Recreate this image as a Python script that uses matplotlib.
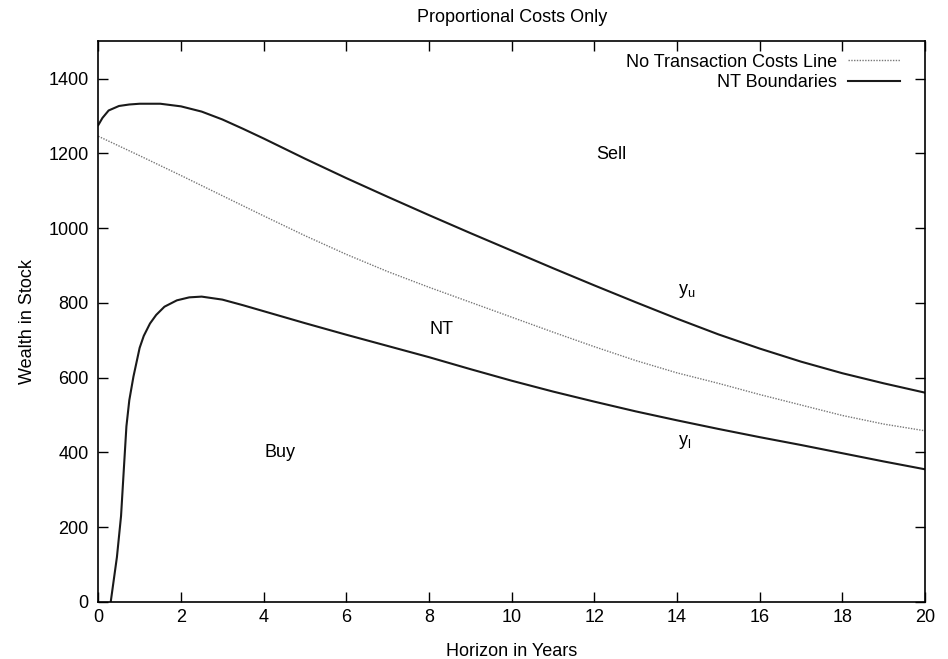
"""
Proportional costs only: no-trade region boundaries vs horizon
"""

import numpy as np
import matplotlib
matplotlib.use("Agg")
import matplotlib.pyplot as plt

plt.rcParams['font.family'] = ['Liberation Sans', 'DejaVu Sans']
plt.rcParams['mathtext.fontset'] = 'custom'
plt.rcParams['mathtext.rm'] = 'Liberation Sans'

# horizon (years) and values
years_mid = [0, 1, 2, 3, 4, 5, 6, 7, 8, 9, 10, 11, 12, 13, 14, 15, 16, 17, 18, 19, 20]
no_tc_line = [1246, 1194, 1141, 1087, 1033, 980, 930, 884, 842, 802, 762, 722, 683, 646,
              613, 585, 555, 527, 499, 476, 458]

years_up = [0, 0.1, 0.25, 0.5, 0.75, 1, 1.5, 2, 2.5, 3, 3.5, 4, 5, 6, 7, 8, 9, 10, 11, 12,
            13, 14, 15, 16, 17, 18, 19, 20]
upper_bound = [1276, 1295, 1315, 1327, 1331, 1333, 1333, 1326, 1312, 1291, 1266, 1240, 1186,
               1134, 1084, 1035, 987, 940, 893, 847, 802, 758, 716, 678, 643, 612, 585, 560]

years_lo = [0.3, 0.45, 0.55, 0.62, 0.68, 0.75, 0.85, 1.0, 1.1, 1.25, 1.4, 1.6, 1.9, 2.2, 2.5,
            3.0, 3.5, 4, 5, 6, 7, 8, 9, 10, 11, 12, 13, 14, 15, 16, 17, 18, 19, 20]
lower_bound = [0, 120, 230, 360, 470, 540, 603, 680, 712, 745, 768, 790, 807, 815, 817,
               809, 794, 778, 746, 715, 685, 655, 623, 592, 563, 536, 510, 486, 463, 441,
               420, 398, 376, 355]

fig = plt.figure(figsize=(9.48, 6.59), dpi=100)
ax = fig.add_axes([0.1037, 0.0865, 0.8721, 0.8508])

ax.plot(years_mid, no_tc_line, color='#777777', lw=1.0, ls=(0, (1, 1)),
        label='No Transaction Costs Line')
ax.plot(years_up, upper_bound, color='#1a1a1a', lw=1.5, label='NT Boundaries')
ax.plot(years_lo, lower_bound, color='#1a1a1a', lw=1.5)

ax.set_xlim(0, 20)
ax.set_ylim(0, 1500)
ax.set_xticks(range(0, 21, 2))
ax.set_yticks(range(0, 1401, 200))
ax.tick_params(direction='in', length=7, width=1, top=True, right=True, labelsize=13)
ax.tick_params(axis='x', pad=5)
ax.tick_params(axis='y', pad=7)
for s in ax.spines.values():
    s.set_linewidth(1.2)

ax.set_title('Proportional Costs Only', fontsize=13, pad=14)
ax.set_xlabel('Horizon in Years', fontsize=13, labelpad=12)
ax.set_ylabel('Wealth in Stock', fontsize=13, labelpad=9)

# region annotations
ax.text(12.42, 1197, 'Sell', fontsize=13, ha='center', va='center')
ax.text(8.31, 728, 'NT', fontsize=13, ha='center', va='center')
ax.text(4.40, 400, 'Buy', fontsize=13, ha='center', va='center')
ax.text(14.23, 831, r'y$_\mathrm{u}$', fontsize=13, ha='center', va='center')
ax.text(14.19, 429, r'y$_\mathrm{l}$', fontsize=13, ha='center', va='center')

ax.legend(loc='upper right', bbox_to_anchor=(0.9698, 0.978), frameon=False,
          markerfirst=False, fontsize=13, handlelength=2.9, handletextpad=0.6,
          labelspacing=0.2, borderpad=0, borderaxespad=0)

fig.savefig('out.png', dpi=100)
